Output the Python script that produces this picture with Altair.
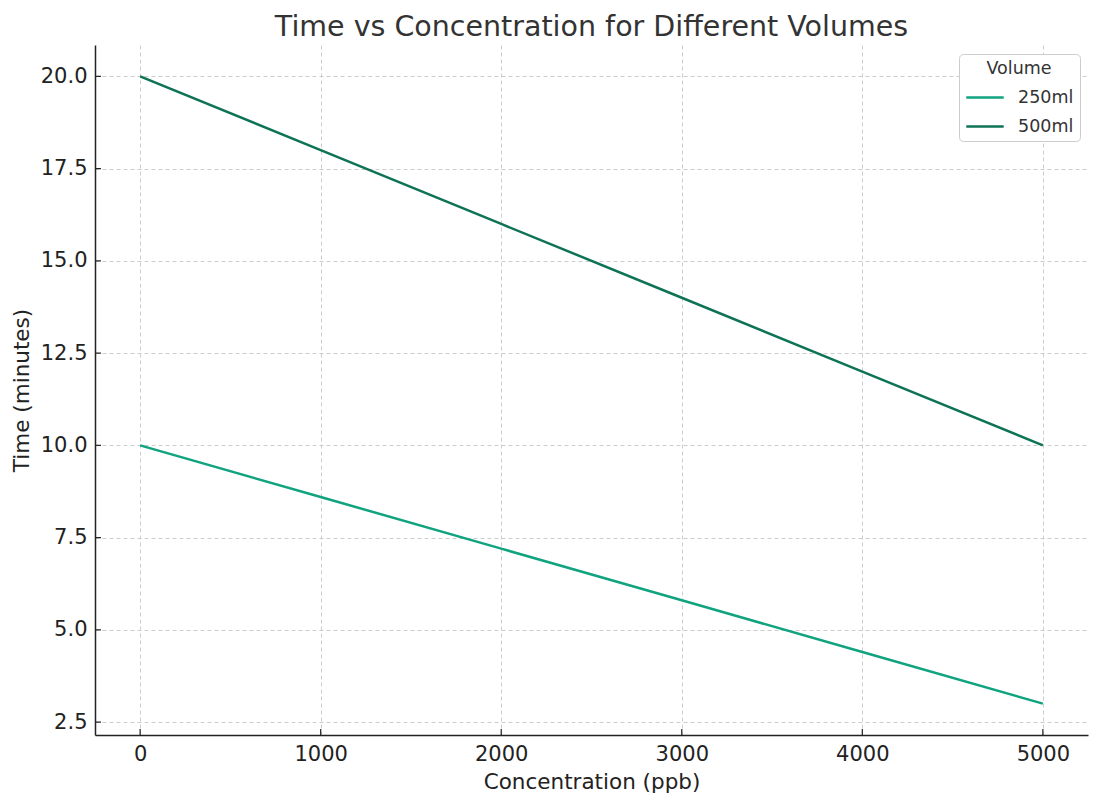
import altair as alt
import pandas as pd

concentration = [0, 1000, 2000, 3000, 4000, 5000]
time_250 = [10.0, 8.6, 7.2, 5.8, 4.4, 3.0]
time_500 = [20.0, 18.0, 16.0, 14.0, 12.0, 10.0]
volumes = ["250ml", "500ml"]
colors = ["#10a37f", "#0e7356"]
x_ticks = [0, 1000, 2000, 3000, 4000, 5000]
y_ticks = [2.5, 5.0, 7.5, 10.0, 12.5, 15.0, 17.5, 20.0]

rows = []
for c, a, b in zip(concentration, time_250, time_500):
    rows.append({"Concentration": c, "Time": a, "Volume": volumes[0]})
    rows.append({"Concentration": c, "Time": b, "Volume": volumes[1]})
df = pd.DataFrame(rows)
xt = pd.DataFrame({"v": x_ticks})
yt = pd.DataFrame({"v": y_ticks})

W, H = 993, 690
FONT = "DejaVu Sans"

xscale = alt.Scale(domain=[-250, 5250], nice=False, zero=False)
yscale = alt.Scale(domain=[2.15, 20.85], nice=False, zero=False)

lines = alt.Chart(df).mark_line(strokeWidth=2.5).encode(
    x=alt.X("Concentration:Q", scale=xscale,
            axis=alt.Axis(title="Concentration (ppb)", values=x_ticks, format="d",
                          tickSize=0, labelPadding=8, titlePadding=7)),
    y=alt.Y("Time:Q", scale=yscale,
            axis=alt.Axis(title="Time (minutes)", values=y_ticks, format=".1f",
                          tickSize=0, labelPadding=8, titlePadding=7)),
    color=alt.Color("Volume:N",
                    scale=alt.Scale(domain=volumes, range=colors),
                    legend=alt.Legend(title="Volume", orient="none",
                                      legendX=864, legendY=9,
                                      symbolType="stroke", symbolSize=1400,
                                      symbolStrokeWidth=2.5,
                                      padding=6, cornerRadius=4,
                                      strokeColor="#cccccc", fillColor="white",
                                      titleAlign="center", titleAnchor="middle",
                                      titleFontSize=17.5, labelFontSize=17.5,
                                      titleFontWeight="normal",
                                      titleColor="#333333", labelColor="#333333",
                                      titleFont=FONT, labelFont=FONT,
                                      rowPadding=-11, titlePadding=0,
                                      labelOffset=13)),
)

xticks_layer = alt.Chart(xt).mark_rule(color="#222222", strokeWidth=1.2).encode(
    x=alt.X("v:Q", scale=xscale),
    y=alt.value(H - 6), y2=alt.value(H),
)
yticks_layer = alt.Chart(yt).mark_rule(color="#222222", strokeWidth=1.2).encode(
    y=alt.Y("v:Q", scale=yscale),
    x=alt.value(0), x2=alt.value(6),
)

chart = alt.layer(lines, xticks_layer, yticks_layer).properties(
    width=W, height=H,
    title=alt.Title("Time vs Concentration for Different Volumes",
                    fontSize=28.5, font=FONT, fontWeight="normal",
                    color="#333333", offset=4),
    autosize=alt.AutoSizeParams(type="none"),
    padding={"left": 87, "top": 37, "right": 4, "bottom": 60},
).configure_view(stroke=None).configure_axis(
    labelFont=FONT, titleFont=FONT, labelFontSize=21, titleFontSize=21.5,
    labelColor="#222222", titleColor="#222222", titleFontWeight="normal",
    domainColor="#222222", domainWidth=1.5,
    grid=True, gridColor="#cccccc", gridDash=[4, 3], gridWidth=1,
)

chart.save("out.html", embed_options={"renderer": "svg", "actions": False})
